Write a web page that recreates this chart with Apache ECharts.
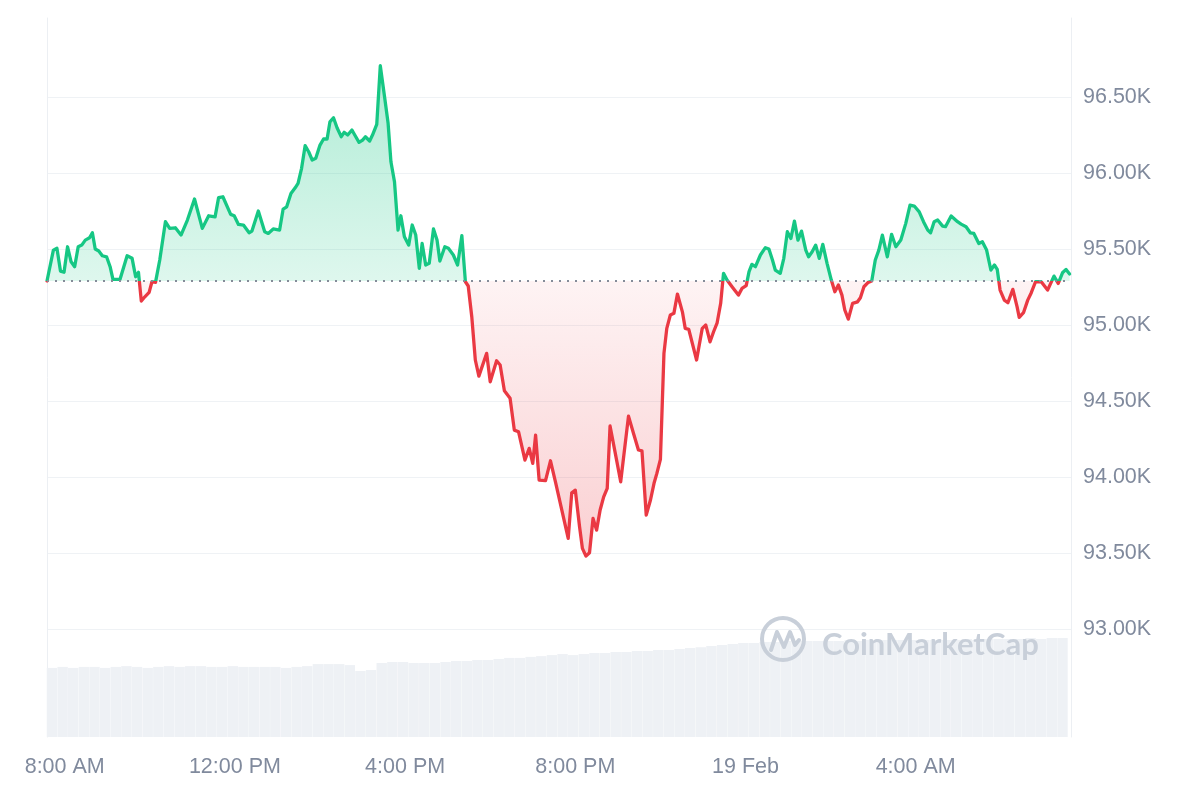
<!DOCTYPE html>
<html>
<head>
<meta charset="utf-8">
<script src="https://cdn.jsdelivr.net/npm/echarts@6/dist/echarts.min.js"></script>
<style>
html,body{margin:0;padding:0;background:#ffffff;}
#main{width:1200px;height:800px;}
</style>
</head>
<body>
<div id="main"></div>
<script>
// ---- data ----
const startDay = '2025-02-18';
const nextDay = '2025-02-19';
const clock = [
'07:35','07:44','07:49','07:54','07:59','08:04','08:09','08:14','08:19','08:24',
'08:29','08:35','08:39','08:43','08:48','08:53','08:59','09:04','09:08','09:18',
'09:28','09:35','09:40','09:44','09:48','09:53','09:59','10:03','10:08','10:14',
'10:22','10:28','10:36','10:44','10:53','11:03','11:14','11:23','11:32','11:37',
'11:43','11:54','11:59','12:05','12:12','12:20','12:24','12:33','12:42','12:47',
'12:54','13:03','13:08','13:13','13:19','13:25','13:29','13:34','13:39','13:44',
'13:49','13:54','14:00','14:05','14:10','14:14','14:19','14:24','14:30','14:34',
'14:39','14:45','14:49','14:55','15:00','15:04','15:10','15:14','15:20','15:25',
'15:31','15:36','15:40','15:45','15:50','15:54','15:59','16:05','16:10','16:15',
'16:20','16:24','16:29','16:34','16:40','16:45','16:49','16:56','17:01','17:08',
'17:14','17:20','17:25','17:29','17:34','17:39','17:44','17:55','18:00','18:09',
'18:14','18:20','18:28','18:34','18:40','18:49','18:55','19:00','19:04','19:09',
'19:18','19:25','19:32','19:41','19:50','19:55','20:00','20:06','20:10','20:15',
'20:20','20:25','20:30','20:35','20:40','20:45','20:49','20:56','21:04','21:15',
'21:22','21:29','21:34','21:40','21:46','21:51','21:55','22:00','22:05','22:09',
'22:14','22:19','22:24','22:31','22:35','22:40','22:51','22:59','23:04','23:10',
'23:15','23:20','23:25','23:29','23:34','23:41','23:50','23:55','00:01','00:05',
'00:09','00:14','00:21','00:28','00:33','00:38','00:42','00:49','00:54','00:59',
'01:04','01:09','01:14','01:19','01:25','01:29','01:34','01:39','01:44','01:49',
'01:55','02:01','02:06','02:11','02:16','02:20','02:25','02:31','02:38','02:42',
'02:47','02:53','02:58','03:03','03:08','03:13','03:20','03:26','03:32','03:39',
'03:46','03:52','03:58','04:05','04:11','04:17','04:21','04:26','04:31','04:38',
'04:42','04:50','04:59','05:04','05:11','05:17','05:22','05:29','05:34','05:40',
'05:46','05:51','05:55','05:59','06:05','06:10','06:17','06:23','06:26','06:32',
'06:38','06:43','06:49','06:57','07:06','07:15','07:21','07:27','07:32','07:37'
];
const prices = [
95290,95493,95505,95355,95347,95515,95416,95384,95515,95526,
95559,95574,95607,95500,95487,95456,95449,95384,95301,95301,
95456,95439,95318,95347,95158,95186,95215,95285,95281,95428,
95680,95636,95640,95592,95691,95829,95636,95719,95712,95838,
95844,95728,95719,95662,95658,95607,95618,95750,95614,95603,
95632,95625,95763,95778,95866,95903,95932,96031,96180,96140,
96086,96097,96184,96224,96224,96337,96364,96298,96239,96268,
96250,96283,96250,96202,96217,96239,96211,96250,96320,96706,
96502,96327,96074,95943,95625,95719,95581,95526,95658,95592,
95373,95537,95395,95406,95632,95559,95421,95515,95505,95461,
95395,95588,95285,95257,95055,94770,94664,94814,94627,94765,
94737,94568,94518,94309,94298,94112,94189,94090,94276,93980,
93976,94107,93969,93783,93597,93897,93914,93673,93531,93480,
93502,93728,93651,93783,93870,93926,94336,94166,93969,94401,
94288,94178,94173,93750,93849,93959,94024,94116,94814,94978,
95066,95077,95204,95087,94978,94972,94770,94978,95000,94890,
94956,95015,95143,95340,95296,95252,95197,95241,95259,95351,
95399,95384,95461,95509,95500,95428,95362,95340,95439,95614,
95570,95684,95559,95618,95493,95449,95482,95526,95439,95531,
95406,95296,95219,95263,95197,95099,95039,95143,95153,95180,
95252,95281,95290,95428,95493,95592,95449,95597,95515,95559,
95669,95789,95783,95745,95680,95625,95607,95680,95691,95651,
95647,95717,95680,95664,95647,95607,95603,95537,95548,95493,
95362,95395,95366,95230,95164,95147,95235,95120,95051,95081,
95164,95213,95285,95285,95230,95322,95274,95344,95366,95336
];
// volume bars, one every 15 minutes
const volStart = '2025-02-18 07:42';
const volStepMinutes = 15;
const volumes = [
26.9,27.3,26.9,27.3,27.3,26.9,27.3,27.6,27.3,26.9,
27.3,27.6,27.3,27.6,27.6,27.3,27.3,27.6,27.3,27.3,
27.3,27.3,26.9,27.3,27.6,28.4,28.4,28.4,28.0,25.7,
26.1,28.8,29.2,29.2,28.8,28.8,28.8,29.2,29.6,29.6,
30.0,30.0,30.4,30.8,30.8,31.2,31.5,31.9,32.3,31.9,
32.3,32.7,32.7,33.1,33.1,33.5,33.5,33.9,33.9,34.3,
34.7,35.0,35.4,35.8,36.2,36.6,36.6,37.0,37.0,37.4,
37.4,37.4,37.4,37.4,37.4,37.8,37.4,37.8,37.8,37.8,
37.8,37.8,37.8,37.8,37.8,37.8,38.2,37.8,38.2,38.2,
38.2,38.2,38.6,38.2,38.6,38.6
];
const yTickValues = [93000,93500,94000,94500,95000,95500,96000,96500];
const xTickTimes = ['2025-02-18 08:00','2025-02-18 12:00','2025-02-18 16:00','2025-02-18 20:00','2025-02-19 00:00','2025-02-19 04:00'];
const xTickLabels = ['8:00 AM','12:00 PM','4:00 PM','8:00 PM','19 Feb','4:00 AM'];
const xRange = ['2025-02-18 07:35','2025-02-19 07:39'];
const yRange = [92290, 97020];
const volRange = [0, 280];

// ---- build ----
const toTs = s => new Date(s.replace(' ', 'T')).getTime();
let day = startDay, prev = '';
const priceData = clock.map((c, i) => {
  if (prev && c < prev) day = nextDay;
  prev = c;
  return [toTs(day + ' ' + c), prices[i]];
});
const base = prices[0];
const volT0 = toTs(volStart);
const volData = volumes.map((v, i) => [volT0 + i * volStepMinutes * 60000, v]);
const xTickTs = xTickTimes.map(toTs);

const GREEN = '#16c784', RED = '#ea3943';
const LABEL = '#808a9d';
const GRIDC = '#eff2f5';
const WM = '#c8cfd9';

const chart = echarts.init(document.getElementById('main'), null, {renderer: 'canvas'});
const option = {
  animation: false,
  backgroundColor: '#ffffff',
  grid: {left: 47, right: 129, top: 18, bottom: 63, containLabel: false},
  xAxis: {
    type: 'value',
    min: toTs(xRange[0]), max: toTs(xRange[1]),
    axisLine: {show: false}, axisTick: {show: false, customValues: xTickTs}, splitLine: {show: false},
    axisLabel: {
      customValues: xTickTs,
      formatter: v => { const k = xTickTs.indexOf(v); return k >= 0 ? xTickLabels[k] : ''; },
      color: LABEL, fontSize: 21.5, fontFamily: 'Liberation Sans, Arial, sans-serif', margin: 19,
      hideOverlap: false
    }
  },
  yAxis: [
    {
      type: 'value', position: 'right', min: yRange[0], max: yRange[1],
      axisLine: {show: true, lineStyle: {color: '#eceff3', width: 1}},
      axisTick: {show: false, customValues: yTickValues},
      axisLabel: {
        customValues: yTickValues,
        formatter: v => (v / 1000).toFixed(2) + 'K',
        color: LABEL, fontSize: 21.5, fontFamily: 'Liberation Sans, Arial, sans-serif', margin: 12
      },
      splitLine: {show: true, lineStyle: {color: GRIDC, width: 1}}
    },
    {
      type: 'value', position: 'left', min: volRange[0], max: volRange[1],
      axisLine: {show: true, lineStyle: {color: '#eceff3', width: 1}},
      axisTick: {show: false}, axisLabel: {show: false}, splitLine: {show: false}
    }
  ],
  series: [
    {
      type: 'bar', xAxisIndex: 0, yAxisIndex: 1, data: volData, barWidth: 10.4,
      itemStyle: {color: '#eef1f5'}, silent: true, z: 1
    },
    {
      type: 'line', xAxisIndex: 0, yAxisIndex: 0, data: priceData,
      showSymbol: false, symbol: 'none', smooth: false,
      lineStyle: {width: 3.3, join: 'round', cap: 'round', color: GREEN},
      itemStyle: {color: GREEN},
      areaStyle: {origin: base, opacity: 1, color: 'rgba(22,199,132,0.2)'},
      markLine: {
        silent: true, symbol: 'none', label: {show: false},
        lineStyle: {type: [2, 6], color: '#858c99', width: 1.8},
        data: [{yAxis: base}]
      },
      z: 3
    }
  ],
  graphic: [
    {type: 'circle', z: 50, silent: true, shape: {cx: 783, cy: 639, r: 21},
      style: {fill: 'none', stroke: WM, lineWidth: 4}},
    {type: 'polyline', z: 50, silent: true,
      shape: {points: [[771, 650], [777, 632], [784, 647], [790, 632], [795, 645], [799, 640]]},
      style: {fill: 'none', stroke: WM, lineWidth: 4, lineJoin: 'round', lineCap: 'round'}},
    {type: 'text', z: 50, silent: true, x: 822, y: 645,
      style: {text: 'CoinMarketCap', fill: WM, font: 'bold 31px Lato, "Open Sans", sans-serif',
        textVerticalAlign: 'middle', textAlign: 'left'}}
  ]
};
chart.setOption(option);

// colours split at the opening price: green above, red below
const yTop = chart.convertToPixel({yAxisIndex: 0}, Math.max(...prices));
const yBot = chart.convertToPixel({yAxisIndex: 0}, Math.min(...prices));
const yBase = chart.convertToPixel({yAxisIndex: 0}, base);
const fb = (yBase - yTop) / (yBot - yTop);
const lineGrad = new echarts.graphic.LinearGradient(0, yTop - 4, 0, yBot + 4, [
  {offset: 0, color: GREEN},
  {offset: (yBase - yTop + 4) / (yBot - yTop + 8), color: GREEN},
  {offset: (yBase - yTop + 4) / (yBot - yTop + 8), color: RED},
  {offset: 1, color: RED}
], true);
const areaGrad = new echarts.graphic.LinearGradient(0, yTop, 0, yBot, [
  {offset: 0, color: 'rgba(22,199,132,0.34)'},
  {offset: Math.max(0, fb - 0.0005), color: 'rgba(22,199,132,0.14)'},
  {offset: fb, color: 'rgba(234,57,67,0.06)'},
  {offset: 1, color: 'rgba(234,57,67,0.24)'}
], true);
chart.setOption({series: [{}, {lineStyle: {color: lineGrad}, areaStyle: {color: areaGrad}}]});
</script>
</body>
</html>
